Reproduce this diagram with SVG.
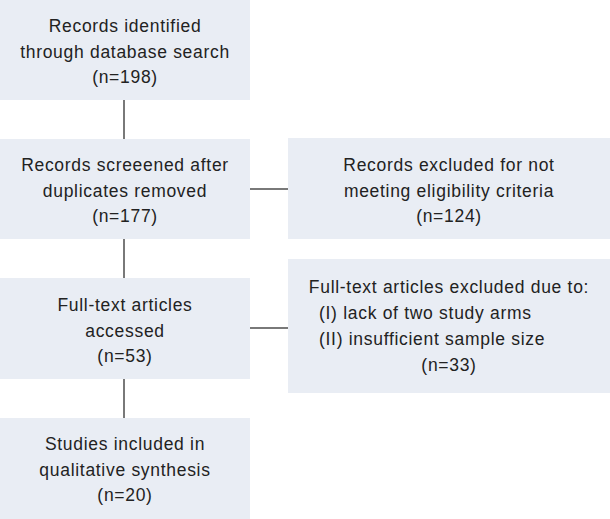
<svg xmlns="http://www.w3.org/2000/svg" width="610" height="519" viewBox="0 0 610 519">
<style>
.box{fill:#e9edf4;stroke:none}
.t{font-family:"Liberation Sans",Arial,sans-serif;font-size:17.5px;letter-spacing:0.7px;fill:#222222;text-anchor:middle}
.l{text-anchor:start}
.c{stroke:#4d4d4d;stroke-width:1.5;fill:none}
</style>
<rect width="610" height="519" fill="#ffffff"/>
<g id="connectors">
<line class="c" x1="124" y1="100" x2="124" y2="139"/>
<line class="c" x1="124" y1="239" x2="124" y2="278"/>
<line class="c" x1="124" y1="379" x2="124" y2="418"/>
<line class="c" x1="250" y1="189" x2="288" y2="189"/>
<line class="c" x1="250" y1="328" x2="288" y2="328"/>
</g>
<g id="n1">
<rect class="box" x="0" y="0" width="250" height="100"/>
<text class="t" x="125" y="32">Records identified</text>
<text class="t" x="125" y="57.5">through database search</text>
<text class="t" x="125" y="83">(n=198)</text>
</g>
<g id="n2">
<rect class="box" x="0" y="139" width="250" height="100"/>
<text class="t" x="125" y="171">Records screeened after</text>
<text class="t" x="125" y="196.5">duplicates removed</text>
<text class="t" x="125" y="222">(n=177)</text>
</g>
<g id="n3">
<rect class="box" x="288" y="138" width="322" height="101"/>
<text class="t" x="449" y="171">Records excluded for not</text>
<text class="t" x="449" y="196.5">meeting eligibility criteria</text>
<text class="t" x="449" y="222">(n=124)</text>
</g>
<g id="n4">
<rect class="box" x="0" y="278" width="250" height="101"/>
<text class="t" x="125" y="311">Full-text articles</text>
<text class="t" x="125" y="336.5">accessed</text>
<text class="t" x="125" y="362">(n=53)</text>
</g>
<g id="n5">
<rect class="box" x="288" y="259" width="322" height="134"/>
<text class="t" x="449" y="293">Full-text articles excluded due to:</text>
<text class="t l" x="319" y="319">(I) lack of two study arms</text>
<text class="t l" x="319" y="345">(II) insufficient sample size</text>
<text class="t" x="449" y="371">(n=33)</text>
</g>
<g id="n6">
<rect class="box" x="0" y="418" width="250" height="101"/>
<text class="t" x="125" y="450">Studies included in</text>
<text class="t" x="125" y="475.5">qualitative synthesis</text>
<text class="t" x="125" y="501">(n=20)</text>
</g>
</svg>
